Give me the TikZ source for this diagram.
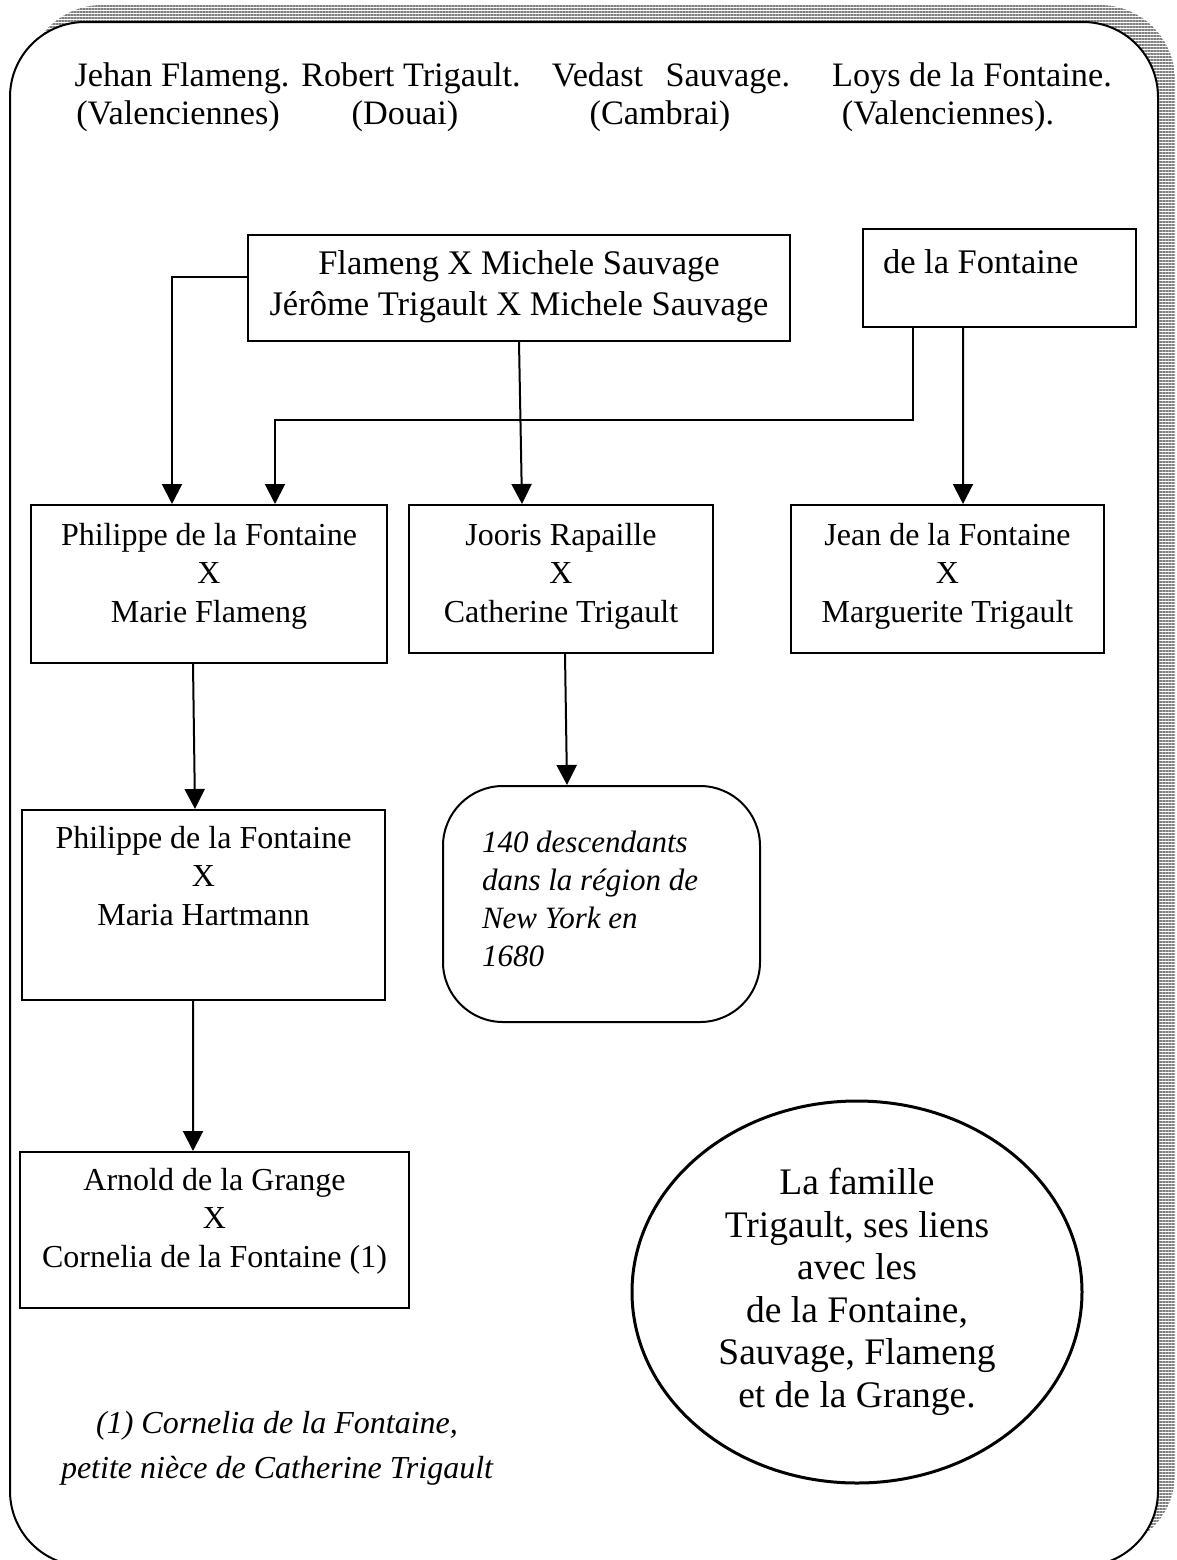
\documentclass[tikz,border=0pt]{standalone}
\usepackage{fontspec}
\setmainfont{Liberation Serif}
\usepackage{tikz}
\usetikzlibrary{shapes.geometric, arrows.meta, patterns.meta}

\newcommand{\boxtext}[4]{\parbox[c][#2][t]{#1}{\centering\rule{0pt}{#3}#4}}
\newcommand{\padtext}[5]{\parbox[c][#2][t]{#1}{\raggedright\leftskip=#4\rule{0pt}{#3}#5}}

\tikzstyle{famille} = [rectangle, draw=black, line width=0.8pt, inner sep=0pt, font=\fontsize{12.8}{15.4}\selectfont]
\tikzstyle{souche} = [rectangle, draw=black, line width=0.8pt, inner sep=0pt, font=\fontsize{13.8}{16.4}\selectfont]
\tikzstyle{note} = [rectangle, rounded corners=24pt, draw=black, line width=0.8pt, inner sep=0pt, font=\fontsize{12.4}{15.3}\selectfont\itshape]
\tikzstyle{titre} = [ellipse, draw=black, line width=1.2pt, inner sep=0pt, minimum width=180pt, minimum height=152.8pt, align=center, font=\fontsize{15}{17}\selectfont]
\tikzstyle{origine} = [anchor=base, inner sep=0pt, font=\fontsize{13.7}{15}\selectfont]
\tikzstyle{arrow} = [line width=0.8pt, -{Triangle[width=8pt,length=8pt]}]

\begin{document}
\begin{tikzpicture}[x=0.4pt, y=-0.4pt]
    \useasboundingbox (0,0) rectangle (1176,1560);
    \fill[white] (0,0) rectangle (1176,1560);
    % cadre avec ombre rayee
    \fill[pattern={Lines[angle=0, distance=1.2pt, line width=0.6pt]}, pattern color=gray, rounded corners=30pt] (27,5) rectangle (1175,1549);
    \draw[line width=0.8pt, fill=white, rounded corners=30pt] (10,22) rectangle (1158,1566);

    \node (jehan) [origine] at (182,86) {Jehan Flameng.};
    \node (jehanville) [origine] at (178,124) {(Valenciennes)};
    \node (robert) [origine] at (411,86) {Robert Trigault.};
    \node (robertville) [origine] at (405,124) {(Douai)};
    \node (vedast) [origine] at (671,86) {Vedast\hspace{9pt}Sauvage.};
    \node (vedastville) [origine] at (660,124) {(Cambrai)};
    \node (loys) [origine] at (972,86) {Loys de la Fontaine.};
    \node (loysville) [origine] at (948,124) {(Valenciennes).};

    \node (sauvage) [souche] at (519,288) {\boxtext{216.8pt}{42.4pt}{15.6pt}{Flameng X Michele Sauvage\\J\'er\^ome Trigault X Michele Sauvage}};
    \node (dlf) [souche] at (999.5,278) {\padtext{109.2pt}{39.2pt}{17.6pt}{8pt}{de la Fontaine}};

    \node (phil1) [famille] at (209,584) {\boxtext{142.4pt}{63.2pt}{16pt}{Philippe de la Fontaine\\X\\Marie Flameng}};
    \node (jooris) [famille] at (561,579) {\boxtext{121.6pt}{59.2pt}{16pt}{Jooris Rapaille\\X\\Catherine Trigault}};
    \node (jean) [famille] at (947.5,579) {\boxtext{125.2pt}{59.2pt}{16pt}{Jean de la Fontaine\\X\\Marguerite Trigault}};
    \node (phil2) [famille] at (203.5,905) {\boxtext{145.2pt}{76pt}{15.2pt}{Philippe de la Fontaine\\X\\Maria Hartmann}};
    \node (descendants) [note] at (601.5,904) {\padtext{126.8pt}{94.4pt}{26.4pt}{15.6pt}{140 descendants\\dans la r\'egion de\\New York en\\1680}};
    \node (arnold) [famille] at (214.5,1230) {\boxtext{155.6pt}{62.4pt}{15.2pt}{Arnold de la Grange\\X\\Cornelia de la Fontaine (1)}};

    \node (titre) [titre] at (857,1292) {La famille\\Trigault, ses liens\\avec les\\de la Fontaine,\\Sauvage, Flameng\\et de la Grange.};
    \node (renvoi) [align=center, font=\fontsize{12.8}{18}\selectfont\itshape] at (277,1448) {(1) Cornelia de la Fontaine,\\petite ni\`ece de Catherine Trigault};

    \draw [arrow] ([yshift=4.4pt]sauvage.west) -| ([xshift=-14.8pt]phil1.north);
    \draw [arrow] (sauvage.south) -- ([xshift=-15.6pt]jooris.north);
    \draw [arrow] ([xshift=-34.6pt]dlf.south) -- ++(0,92) -| ([xshift=26.4pt]phil1.north);
    \draw [arrow] ([xshift=-14.6pt]dlf.south) -- ([xshift=6.2pt]jean.north);
    \draw [arrow] ([xshift=-6.4pt]phil1.south) -- ([xshift=-3.4pt]phil2.north);
    \draw [arrow] ([xshift=1.6pt]jooris.south) -- ([xshift=-13.8pt]descendants.north);
    \draw [arrow] ([xshift=-4.2pt]phil2.south) -- ([xshift=-8.6pt]arnold.north);
\end{tikzpicture}
\end{document}
